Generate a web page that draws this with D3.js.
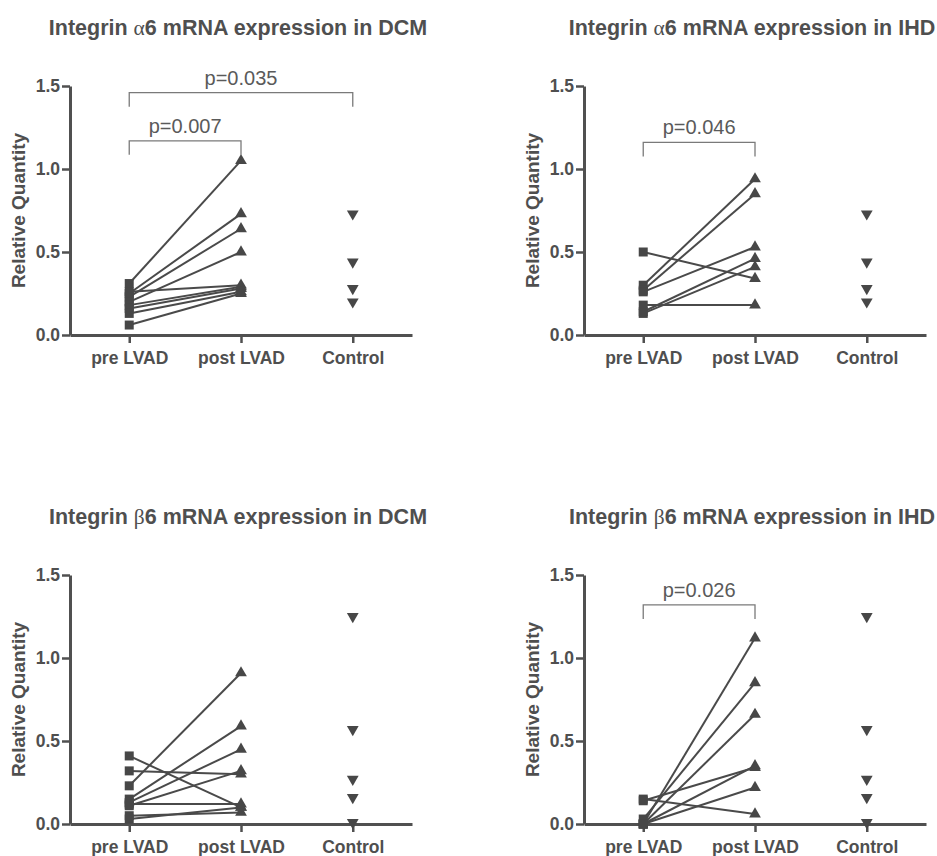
<!DOCTYPE html>
<html>
<head>
<meta charset="utf-8">
<script src="https://cdn.jsdelivr.net/npm/d3@7"></script>
<style>
  html, body { margin: 0; padding: 0; background: #fff; }
  svg { display: block; }
</style>
</head>
<body>
<svg id="chart" width="937" height="856"></svg>
<script>
// Groups on the x axis
const categories = ["pre LVAD", "post LVAD", "Control"];
const yTicks = [0, 0.5, 1.0, 1.5];

// Integrin alpha6, DCM: paired patients (pre -> post), plus controls
const a6DcmPre  = [0.31, 0.25, 0.23, 0.20, 0.26, 0.18, 0.16, 0.13, 0.06];
const a6DcmPost = [1.05, 0.73, 0.64, 0.50, 0.30, 0.29, 0.28, 0.26, 0.25];
// Integrin alpha6, IHD
const a6IhdPre  = [0.50, 0.30, 0.27, 0.26, 0.14, 0.13, 0.18];
const a6IhdPost = [0.34, 0.94, 0.85, 0.53, 0.46, 0.41, 0.18];
// Controls shared by the alpha6 panels
const a6Control = [0.73, 0.44, 0.28, 0.20];

// Integrin beta6, DCM
const b6DcmPre  = [0.41, 0.32, 0.23, 0.15, 0.13, 0.11, 0.12, 0.05, 0.03];
const b6DcmPost = [0.10, 0.30, 0.91, 0.59, 0.45, 0.32, 0.12, 0.07, 0.10];
// Integrin beta6, IHD
const b6IhdPre  = [0.15, 0.14, 0.00, 0.03, 0.00, 0.00, 0.00];
const b6IhdPost = [0.06, 0.34, 1.12, 0.85, 0.66, 0.35, 0.22];
// Controls shared by the beta6 panels
const b6Control = [1.25, 0.57, 0.27, 0.16, 0.01];

// Significance brackets: [from group, to group, bracket level, label]
const a6DcmSig = [["pre LVAD", "post LVAD", 1.17, "p=0.007"], ["pre LVAD", "Control", 1.46, "p=0.035"]];
const a6IhdSig = [["pre LVAD", "post LVAD", 1.16, "p=0.046"]];
const b6DcmSig = [];
const b6IhdSig = [["pre LVAD", "post LVAD", 1.32, "p=0.026"]];

const panels = [
  { greek: "\u03b1", disease: "DCM", pre: a6DcmPre, post: a6DcmPost, control: a6Control, sig: a6DcmSig, ax: 70,  y0: 335 },
  { greek: "\u03b1", disease: "IHD", pre: a6IhdPre, post: a6IhdPost, control: a6Control, sig: a6IhdSig, ax: 584, y0: 335 },
  { greek: "\u03b2", disease: "DCM", pre: b6DcmPre, post: b6DcmPost, control: b6Control, sig: b6DcmSig, ax: 70,  y0: 824 },
  { greek: "\u03b2", disease: "IHD", pre: b6IhdPre, post: b6IhdPost, control: b6Control, sig: b6IhdSig, ax: 584, y0: 824 }
];

const ink = "#505050";
const textInk = "#4f4f4f";
const font = "'Liberation Sans', Arial, Helvetica, sans-serif";
const svg = d3.select("#chart");

panels.forEach(p => {
  const g = svg.append("g");
  const y = d3.scaleLinear().domain([0, 1.5]).range([p.y0, p.y0 - 249]);
  const x = d3.scalePoint().domain(categories).range([p.ax, p.ax + 342]).padding(0.53);

  // Title, sitting above the plot area
  const title = g.append("text")
    .attr("x", p.ax + 168)
    .attr("y", p.y0 - 300)
    .attr("text-anchor", "middle")
    .attr("font-family", font)
    .attr("font-weight", "bold")
    .attr("font-size", 21.5)
    .attr("fill", textInk);
  title.append("tspan").text("Integrin ");
  title.append("tspan").attr("font-family", "'Liberation Serif', 'DejaVu Serif', serif")
    .attr("font-weight", "normal").text(p.greek);
  title.append("tspan").text("6 mRNA expression in " + p.disease);

  // Y axis
  const yAxis = g.append("g")
    .attr("transform", `translate(${p.ax},0)`)
    .call(d3.axisLeft(y).tickValues(yTicks).tickFormat(d3.format(".1f")).tickSize(8).tickSizeOuter(0).tickPadding(2));
  // X axis
  const xAxis = g.append("g")
    .attr("transform", `translate(0,${p.y0})`)
    .call(d3.axisBottom(x).tickSize(8).tickSizeOuter(0).tickPadding(9));

  [yAxis, xAxis].forEach(a => {
    a.select(".domain").attr("stroke", ink).attr("stroke-width", 3);
    a.selectAll(".tick line").attr("stroke", ink).attr("stroke-width", 2.5);
    a.selectAll(".tick text")
      .attr("font-family", font)
      .attr("font-weight", "bold")
      .attr("font-size", 17.5)
      .attr("fill", textInk);
  });

  // Y axis title
  g.append("text")
    .attr("transform", `translate(${p.ax - 52},${(y(0) + y(1.5)) / 2}) rotate(-90)`)
    .attr("text-anchor", "middle")
    .attr("dy", "0.35em")
    .attr("font-family", font)
    .attr("font-weight", "bold")
    .attr("font-size", 19)
    .attr("fill", textInk)
    .text("Relative Quantity");

  // Paired lines pre -> post
  const pairs = p.pre.map((v, i) => [v, p.post[i]]);
  g.append("g").selectAll("line")
    .data(pairs)
    .join("line")
    .attr("x1", x("pre LVAD"))
    .attr("y1", d => y(d[0]))
    .attr("x2", x("post LVAD"))
    .attr("y2", d => y(d[1]))
    .attr("stroke", "#4a4a4a")
    .attr("stroke-width", 2);

  // Markers
  const square = d3.symbol().type(d3.symbolSquare).size(81)();
  const tri = d3.symbol().type(d3.symbolTriangle).size(60)();
  g.append("g").selectAll("path")
    .data(p.pre)
    .join("path")
    .attr("d", square)
    .attr("transform", d => `translate(${x("pre LVAD")},${y(d)})`)
    .attr("fill", "#474747");
  g.append("g").selectAll("path")
    .data(p.post)
    .join("path")
    .attr("d", tri)
    .attr("transform", d => `translate(${x("post LVAD")},${y(d)})`)
    .attr("fill", "#474747");
  g.append("g").selectAll("path")
    .data(p.control)
    .join("path")
    .attr("d", tri)
    .attr("transform", d => `translate(${x("Control")},${y(d)}) rotate(180)`)
    .attr("fill", "#474747");

  // Significance brackets
  const sig = g.append("g").selectAll("g").data(p.sig).join("g");
  sig.append("path")
    .attr("d", d => {
      const x1 = x(d[0]), x2 = x(d[1]), yy = y(d[2]);
      return `M${x1},${yy + 14}V${yy}H${x2}V${yy + 14}`;
    })
    .attr("fill", "none")
    .attr("stroke", "#7a7a7a")
    .attr("stroke-width", 1.3);
  sig.append("text")
    .attr("x", d => (x(d[0]) + x(d[1])) / 2)
    .attr("y", d => y(d[2]) - 8)
    .attr("text-anchor", "middle")
    .attr("font-family", font)
    .attr("font-size", 20)
    .attr("fill", "#5a5a5a")
    .text(d => d[3]);
});
</script>
</body>
</html>
